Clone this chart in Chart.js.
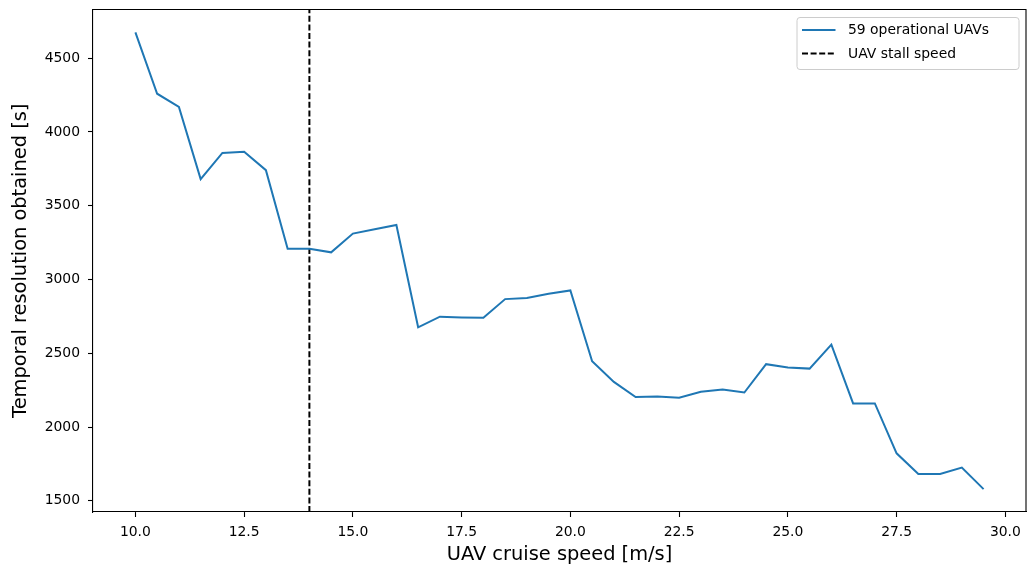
<!DOCTYPE html>
<html>
<head>
<meta charset="utf-8">
<script src="https://cdn.jsdelivr.net/npm/chart.js@4.4.1/dist/chart.umd.min.js"></script>
<style>
  html, body { margin: 0; padding: 0; background: #ffffff; }
  #wrap { width: 1027px; height: 570px; }
</style>
</head>
<body>
<div id="wrap"><canvas id="c" width="1027" height="570"></canvas></div>
<script>
// Cruise speeds [m/s]
const cruiseSpeed = [
  10.0, 10.5, 11.0, 11.5, 12.0, 12.5, 13.0, 13.5, 14.0, 14.5,
  15.0, 15.5, 16.0, 16.5, 17.0, 17.5, 18.0, 18.5, 19.0, 19.5,
  20.0, 20.5, 21.0, 21.5, 22.0, 22.5, 23.0, 23.5, 24.0, 24.5,
  25.0, 25.5, 26.0, 26.5, 27.0, 27.5, 28.0, 28.5, 29.0, 29.5
];
// Temporal resolution obtained with 59 operational UAVs [s]
const temporalResolution = [
  4675, 4259, 4169, 3680, 3858, 3865, 3741, 3209, 3209, 3184,
  3311, 3340, 3369, 2676, 2748, 2743, 2741, 2867, 2874, 2903,
  2926, 2446, 2306, 2203, 2207, 2198, 2239, 2255, 2234, 2426,
  2403, 2396, 2559, 2160, 2160, 1822, 1682, 1682, 1725, 1579
];
const stallSpeed = 14.0;
const xTickValues = [10.0, 12.5, 15.0, 17.5, 20.0, 22.5, 25.0, 27.5, 30.0];
const yTickValues = [1500, 2000, 2500, 3000, 3500, 4000, 4500];
const seriesLabel = '59 operational UAVs';
const stallLabel = 'UAV stall speed';
const xTitle = 'UAV cruise speed [m/s]';
const yTitle = 'Temporal resolution obtained [s]';

const FONT = 'DejaVu Sans';
const BLUE = '#1f77b4';
const STALL_DASH = [6, 2.6];

// axis limits with a 5% margin around the data
function padded(arr, frac) {
  const lo = Math.min(...arr), hi = Math.max(...arr);
  const m = (hi - lo) * frac;
  return [lo - m, hi + m];
}
const [xMin, xMax] = padded(cruiseSpeed, 0.05);
const [yMin, yMax] = padded(temporalResolution, 0.05);

const series = cruiseSpeed.map((x, i) => ({ x: x, y: temporalResolution[i] }));
const stallLine = [{ x: stallSpeed, y: yMin }, { x: stallSpeed, y: yMax }];

// top/right frame lines and the boxed legend
const framePlugin = {
  id: 'frameAndLegend',
  afterDatasetsDraw(chart) {
    const { ctx, chartArea: a } = chart;
    ctx.save();
    ctx.strokeStyle = '#000000';
    ctx.lineWidth = 1.1;
    ctx.beginPath();
    ctx.moveTo(a.left, a.top);
    ctx.lineTo(a.right, a.top);
    ctx.lineTo(a.right, a.bottom);
    ctx.stroke();

    // legend box
    const bx = 797, by = 17.5, bw = 222, bh = 52, r = 3;
    ctx.beginPath();
    ctx.moveTo(bx + r, by);
    ctx.lineTo(bx + bw - r, by);
    ctx.quadraticCurveTo(bx + bw, by, bx + bw, by + r);
    ctx.lineTo(bx + bw, by + bh - r);
    ctx.quadraticCurveTo(bx + bw, by + bh, bx + bw - r, by + bh);
    ctx.lineTo(bx + r, by + bh);
    ctx.quadraticCurveTo(bx, by + bh, bx, by + bh - r);
    ctx.lineTo(bx, by + r);
    ctx.quadraticCurveTo(bx, by, bx + r, by);
    ctx.closePath();
    ctx.fillStyle = 'rgba(255,255,255,0.8)';
    ctx.fill();
    ctx.strokeStyle = '#cccccc';
    ctx.lineWidth = 1;
    ctx.stroke();

    const rows = [
      { label: seriesLabel, color: BLUE, dash: [], y: 30 },
      { label: stallLabel, color: '#000000', dash: STALL_DASH, y: 53.5 }
    ];
    rows.forEach(row => {
      ctx.beginPath();
      ctx.setLineDash(row.dash);
      ctx.strokeStyle = row.color;
      ctx.lineWidth = 2;
      ctx.moveTo(802, row.y);
      ctx.lineTo(835.5, row.y);
      ctx.stroke();
      ctx.setLineDash([]);
      ctx.fillStyle = '#000000';
      ctx.font = '13.9px "' + FONT + '"';
      ctx.textAlign = 'left';
      ctx.textBaseline = 'middle';
      ctx.fillText(row.label, 848, row.y + 0.5);
    });
    ctx.restore();
  }
};

new Chart(document.getElementById('c'), {
  type: 'line',
  data: {
    datasets: [
      {
        label: seriesLabel,
        data: series,
        borderColor: BLUE,
        borderWidth: 2,
        pointRadius: 0,
        tension: 0,
        fill: false
      },
      {
        label: stallLabel,
        data: stallLine,
        borderColor: '#000000',
        borderWidth: 2,
        borderDash: STALL_DASH,
        pointRadius: 0,
        tension: 0,
        fill: false
      }
    ]
  },
  options: {
    responsive: false,
    animation: false,
    events: [],
    layout: { padding: { top: 9.5, right: 1, bottom: 0, left: 0 } },
    plugins: {
      legend: { display: false },
      tooltip: { enabled: false }
    },
    scales: {
      x: {
        type: 'linear',
        min: xMin,
        max: xMax,
        afterBuildTicks(scale) {
          scale.ticks = xTickValues.map(v => ({ value: v }));
        },
        afterFit(scale) {
          scale.height = 58;
          scale.paddingLeft = 0;
          scale.paddingRight = 0;
        },
        grid: {
          drawOnChartArea: false,
          drawTicks: true,
          tickLength: 5,
          tickWidth: 1.1,
          tickColor: '#000000'
        },
        border: { display: true, color: '#000000', width: 1.1 },
        ticks: {
          color: '#000000',
          padding: 7,
          maxRotation: 0,
          autoSkip: false,
          font: { family: FONT, size: 13.9 },
          callback: v => Number(v).toFixed(1)
        },
        title: {
          display: true,
          text: xTitle,
          color: '#000000',
          font: { family: FONT, size: 19.4 },
          padding: { top: 0, bottom: 3.3 }
        }
      },
      y: {
        type: 'linear',
        min: yMin,
        max: yMax,
        afterBuildTicks(scale) {
          scale.ticks = yTickValues.map(v => ({ value: v }));
        },
        afterFit(scale) {
          scale.width = 93;
          scale.paddingTop = 0;
          scale.paddingBottom = 0;
        },
        grid: {
          drawOnChartArea: false,
          drawTicks: true,
          tickLength: 5,
          tickWidth: 1.1,
          tickColor: '#000000'
        },
        border: { display: true, color: '#000000', width: 1.1 },
        ticks: {
          color: '#000000',
          padding: 8,
          autoSkip: false,
          font: { family: FONT, size: 13.9 },
          callback: v => String(v)
        },
        title: {
          display: true,
          text: yTitle,
          color: '#000000',
          font: { family: FONT, size: 19.4 },
          padding: { top: 9.5, bottom: 0 }
        }
      }
    }
  },
  plugins: [framePlugin]
});
</script>
</body>
</html>
